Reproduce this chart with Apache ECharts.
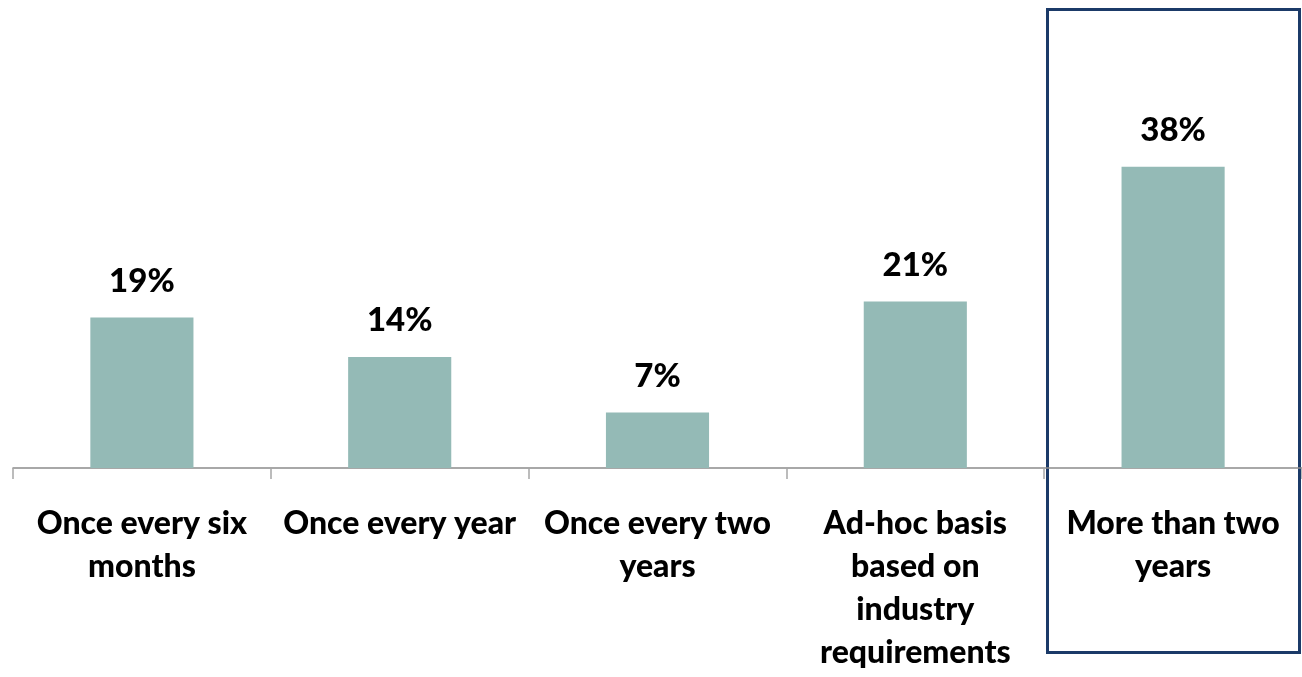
<!DOCTYPE html>
<html>
<head>
<meta charset="utf-8">
<script src="https://cdn.jsdelivr.net/npm/echarts@6/dist/echarts.min.js"></script>
<style>
  html, body { margin: 0; padding: 0; background: #fff; }
  #main { width: 1302px; height: 677px; }
</style>
</head>
<body>
<div id="main"></div>
<script>
// categories as printed under the axis
var categories = [
  'Once every six\nmonths',
  'Once every year',
  'Once every two\nyears',
  'Ad-hoc basis\nbased on\nindustry\nrequirements',
  'More than two\nyears'
];
// share of respondents, %
var shares = [19, 14, 7, 21, 38];

var myChart = echarts.init(document.getElementById('main'));
myChart.setOption({
  animation: false,
  textStyle: { fontFamily: 'Lato' },
  grid: { left: 13, right: 0, top: 151, bottom: 209 },
  xAxis: {
    type: 'category',
    data: categories,
    axisLine: { lineStyle: { color: '#8c8c8c', width: 1.5 } },
    axisTick: { show: true, length: 11, lineStyle: { color: '#a6a6a6', width: 1.5 } },
    axisLabel: {
      interval: 0,
      margin: 34,
      color: '#000',
      fontWeight: 900,
      fontSize: 32,
      lineHeight: 43,
      fontFamily: 'Lato'
    }
  },
  yAxis: {
    type: 'value',
    min: 0,
    max: 40,
    show: false,
    splitLine: { show: false }
  },
  series: [{
    type: 'bar',
    data: shares,
    barWidth: '40%',
    itemStyle: { color: '#94bab6' },
    label: {
      show: true,
      position: 'top',
      distance: 20,
      formatter: '{c}%',
      color: '#000',
      fontWeight: 900,
      fontSize: 33,
      fontFamily: 'Lato'
    }
  }],
  graphic: [{
    type: 'rect',
    shape: { x: 1047.5, y: 9.5, width: 252, height: 643 },
    style: { fill: 'none', stroke: '#1b3a68', lineWidth: 3 }
  }]
});
</script>
</body>
</html>
